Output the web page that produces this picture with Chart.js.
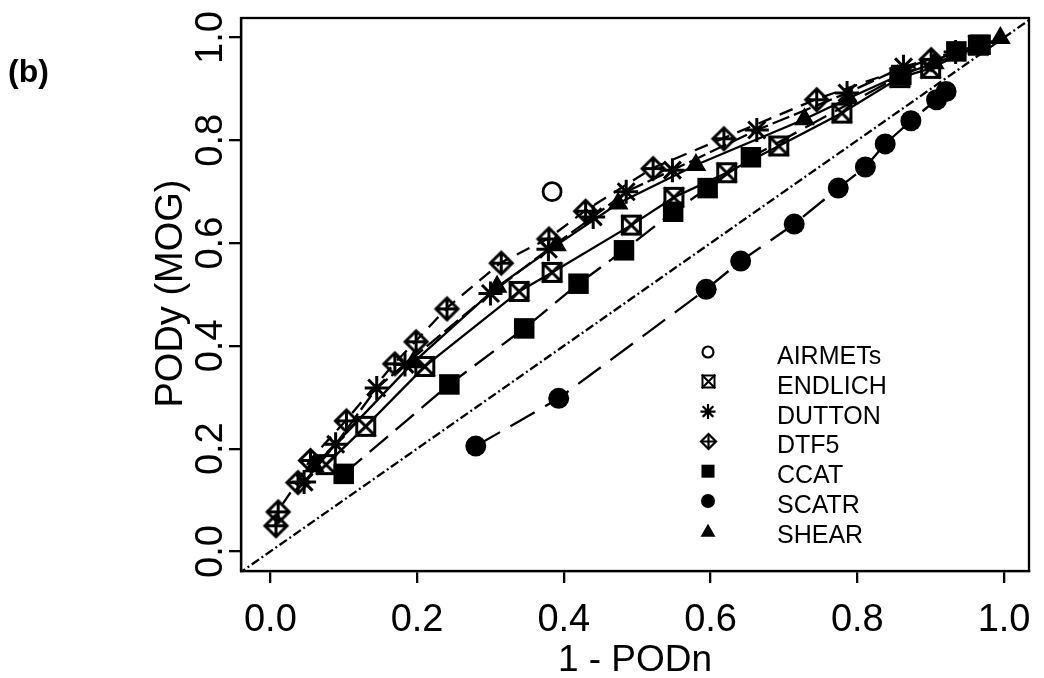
<!DOCTYPE html>
<html><head><meta charset="utf-8">
<script src="https://cdn.jsdelivr.net/npm/chart.js@4.4.1/dist/chart.umd.min.js"></script>
<style>html,body{margin:0;padding:0;background:#fff;overflow:hidden}</style>
</head><body>
<canvas id="c" width="1044" height="678"></canvas>
<script>
// ---- data ----
const seriesNames = ['AIRMETs', 'ENDLICH', 'DUTTON', 'DTF5', 'CCAT', 'SCATR', 'SHEAR'];
const airmetsX = [0.384];
const airmetsY = [0.700];
const endlichX = [0.076, 0.130, 0.2105, 0.339, 0.384, 0.492, 0.550, 0.622, 0.693, 0.779, 0.858, 0.900, 0.965];
const endlichY = [0.169, 0.2435, 0.360, 0.506, 0.543, 0.635, 0.689, 0.737, 0.789, 0.853, 0.922, 0.940, 0.985];
const duttonX = [0.046, 0.089, 0.145, 0.1835, 0.300, 0.379, 0.440, 0.485, 0.548, 0.663, 0.786, 0.863, 0.934];
const duttonY = [0.135, 0.2085, 0.318, 0.364, 0.502, 0.588, 0.651, 0.700, 0.742, 0.820, 0.892, 0.943, 0.972];
const dtf5X = [0.007, 0.010, 0.037, 0.054, 0.103, 0.169, 0.198, 0.240, 0.314, 0.379, 0.429, 0.521, 0.6175, 0.744, 0.900];
const dtf5Y = [0.051, 0.078, 0.135, 0.178, 0.255, 0.366, 0.409, 0.473, 0.562, 0.609, 0.663, 0.746, 0.804, 0.880, 0.958];
const ccatX = [0.100, 0.244, 0.346, 0.420, 0.482, 0.549, 0.596, 0.655, 0.860, 0.935, 0.968];
const ccatY = [0.151, 0.325, 0.434, 0.521, 0.586, 0.661, 0.707, 0.767, 0.927, 0.973, 0.986];
const scatrX = [0.280, 0.393, 0.594, 0.641, 0.714, 0.774, 0.811, 0.838, 0.873, 0.908, 0.921];
const scatrY = [0.205, 0.298, 0.510, 0.565, 0.637, 0.707, 0.748, 0.793, 0.838, 0.879, 0.895];
const shearX = [0.060, 0.195, 0.309, 0.390, 0.474, 0.580, 0.728, 0.788, 0.855, 0.905, 0.995];
const shearY = [0.166, 0.368, 0.515, 0.596, 0.677, 0.752, 0.841, 0.882, 0.925, 0.950, 0.999];
const diagX = [-0.05, 1.05];
const diagY = [-0.05, 1.05];
const xTickValues = [0, 0.2, 0.4, 0.6, 0.8, 1.0];
const xTickLabels = ['0.0', '0.2', '0.4', '0.6', '0.8', '1.0'];
const yTickValues = [0, 0.2, 0.4, 0.6, 0.8, 1.0];
const yTickLabels = ['0.0', '0.2', '0.4', '0.6', '0.8', '1.0'];
const xTitle = '1 - PODn';
const yTitle = 'PODy (MOG)';
const panelLabel = '(b)';

const FONT = '"Liberation Sans", Arial, Helvetica, sans-serif';
Chart.defaults.font.family = FONT;

// ---- custom symbols ----
function makeCanvas(S) { const c = document.createElement('canvas'); c.width = S; c.height = S; return c; }
function boxX(half, lw) {
  const S = Math.ceil(half * 2 + lw * 2 + 3), c = makeCanvas(S), g = c.getContext('2d');
  const m = Math.floor(S / 2) + 0.5;
  g.strokeStyle = '#000'; g.lineWidth = lw; g.lineJoin = 'miter'; g.lineCap = 'square';
  g.strokeRect(m - half, m - half, half * 2, half * 2);
  g.beginPath(); g.moveTo(m - half, m - half); g.lineTo(m + half, m + half); g.moveTo(m + half, m - half); g.lineTo(m - half, m + half); g.stroke();
  return c;
}
function diamondPlus(half, lw) {
  const S = Math.ceil(half * 2 + lw * 2 + 4), c = makeCanvas(S), g = c.getContext('2d');
  const m = Math.floor(S / 2) + 0.5;
  g.strokeStyle = '#000'; g.lineWidth = lw; g.lineJoin = 'miter';
  g.beginPath(); g.moveTo(m, m - half); g.lineTo(m + half, m); g.lineTo(m, m + half); g.lineTo(m - half, m); g.closePath(); g.stroke();
  g.beginPath(); g.moveTo(m, m - half); g.lineTo(m, m + half); g.moveTo(m - half, m); g.lineTo(m + half, m); g.stroke();
  return c;
}
const endlichSym = boxX(9, 3);
const dtf5Sym = diamondPlus(11, 3);
const endlichLeg = boxX(6, 2);
const dtf5Leg = diamondPlus(7.5, 2.2);

function pts(xs, ys) { return xs.map((x, i) => ({ x: x, y: ys[i] })); }
function series(label, xs, ys, extra) {
  return Object.assign({
    label: label, data: pts(xs, ys), showLine: true, borderColor: '#000', borderWidth: 2.3,
    pointBorderColor: '#000', pointBackgroundColor: '#000', pointBorderWidth: 0, tension: 0
  }, extra);
}

const datasets = [
  series('AIRMETs', airmetsX, airmetsY, { showLine: false, pointStyle: 'circle', pointRadius: 9, pointBorderWidth: 2.8, pointBackgroundColor: 'rgba(0,0,0,0)' }),
  series('ENDLICH', endlichX, endlichY, { pointStyle: endlichSym, pointRadius: 10 }),
  series('DUTTON', duttonX, duttonY, { pointStyle: 'star', pointRadius: 12, pointBorderWidth: 3, borderDash: [18, 5] }),
  series('DTF5', dtf5X, dtf5Y, { pointStyle: dtf5Sym, pointRadius: 10, borderDash: [14, 9] }),
  series('CCAT', ccatX, ccatY, { pointStyle: 'rect', pointRadius: 14.5, borderDash: [24, 10] }),
  series('SCATR', scatrX, scatrY, { pointStyle: 'circle', pointRadius: 10.5, borderDash: [28, 12] }),
  series('SHEAR', shearX, shearY, { pointStyle: 'triangle', pointRadius: 12 }),
  series('diag', diagX, diagY, { pointRadius: 0, borderWidth: 2.3, borderDash: [2, 3, 9, 3], clip: 0 })
];

const decor = {
  id: 'decor',
  afterDraw(chart) {
    const g = chart.ctx, a = chart.chartArea, xs = chart.scales.x, ys = chart.scales.y;
    g.save();
    g.strokeStyle = '#000'; g.lineWidth = 2.3;
    g.strokeRect(a.left, a.top, a.right - a.left, a.bottom - a.top);
    g.fillStyle = '#000';
    // x tick labels
    g.font = '38px ' + FONT; g.textAlign = 'center'; g.textBaseline = 'alphabetic';
    xTickValues.forEach((v, i) => g.fillText(xTickLabels[i], xs.getPixelForValue(v), 631));
    // x title
    g.font = '37px ' + FONT;
    g.fillText(xTitle, (a.left + a.right) / 2, 671);
    // y tick labels (rotated)
    g.font = '38px ' + FONT;
    yTickValues.forEach((v, i) => {
      g.save(); g.translate(222, ys.getPixelForValue(v)); g.rotate(-Math.PI / 2);
      g.fillText(yTickLabels[i], 0, 0); g.restore();
    });
    // y title
    g.save(); g.translate(182, 293.5); g.rotate(-Math.PI / 2);
    g.font = '38px ' + FONT; g.fillText(yTitle, 0, 0); g.restore();
    // panel label
    g.font = 'bold 32px ' + FONT; g.textAlign = 'left';
    g.fillText(panelLabel, 8, 82);
    // legend
    const sx = 708, tx = 777, sy0 = 352, ty0 = 364, dy = 29.8;
    g.font = '25px ' + FONT; g.textAlign = 'left';
    seriesNames.forEach((name, i) => {
      const y = sy0 + dy * i;
      g.fillText(name, tx, ty0 + dy * i);
      g.lineWidth = 2.2;
      if (i === 0) { g.beginPath(); g.arc(sx, y, 5.5, 0, Math.PI * 2); g.stroke(); }
      else if (i === 1) { g.drawImage(endlichLeg, Math.round(sx - endlichLeg.width / 2), Math.round(y - endlichLeg.height / 2)); }
      else if (i === 2) {
        g.beginPath();
        g.moveTo(sx, y - 7.5); g.lineTo(sx, y + 7.5); g.moveTo(sx - 7.5, y); g.lineTo(sx + 7.5, y);
        g.moveTo(sx - 5.3, y - 5.3); g.lineTo(sx + 5.3, y + 5.3); g.moveTo(sx + 5.3, y - 5.3); g.lineTo(sx - 5.3, y + 5.3);
        g.stroke();
      }
      else if (i === 3) { g.drawImage(dtf5Leg, Math.round(sx - dtf5Leg.width / 2), Math.round(y - dtf5Leg.height / 2)); }
      else if (i === 4) { g.fillRect(sx - 6.5, y - 6.5, 13, 13); }
      else if (i === 5) { g.beginPath(); g.arc(sx, y, 7, 0, Math.PI * 2); g.fill(); }
      else if (i === 6) { g.beginPath(); g.moveTo(sx, y - 7); g.lineTo(sx + 7.5, y + 6); g.lineTo(sx - 7.5, y + 6); g.closePath(); g.fill(); }
    });
    g.restore();
  }
};

new Chart(document.getElementById('c'), {
  type: 'scatter',
  data: { datasets: datasets },
  options: {
    responsive: false, animation: false, devicePixelRatio: 1, events: [],
    layout: { padding: { left: 0, top: 18, right: 7, bottom: 0 } },
    plugins: { legend: { display: false }, tooltip: { enabled: false } },
    scales: {
      x: {
        type: 'linear', min: -0.04, max: 1.034,
        afterBuildTicks: s => { s.ticks = xTickValues.map(v => ({ value: v })); },
        afterFit: s => { s.height = 107; },
        ticks: { display: false },
        grid: { drawOnChartArea: false, drawTicks: true, tickLength: 12, color: '#000', lineWidth: 2.3 },
        border: { display: true, color: '#000', width: 2.3 }
      },
      y: {
        type: 'linear', min: -0.038, max: 1.038,
        afterBuildTicks: s => { s.ticks = yTickValues.map(v => ({ value: v })); },
        afterFit: s => { s.width = 241; },
        ticks: { display: false },
        grid: { drawOnChartArea: false, drawTicks: true, tickLength: 12, color: '#000', lineWidth: 2.3 },
        border: { display: true, color: '#000', width: 2.3 }
      }
    }
  },
  plugins: [decor]
});
</script>
</body></html>
